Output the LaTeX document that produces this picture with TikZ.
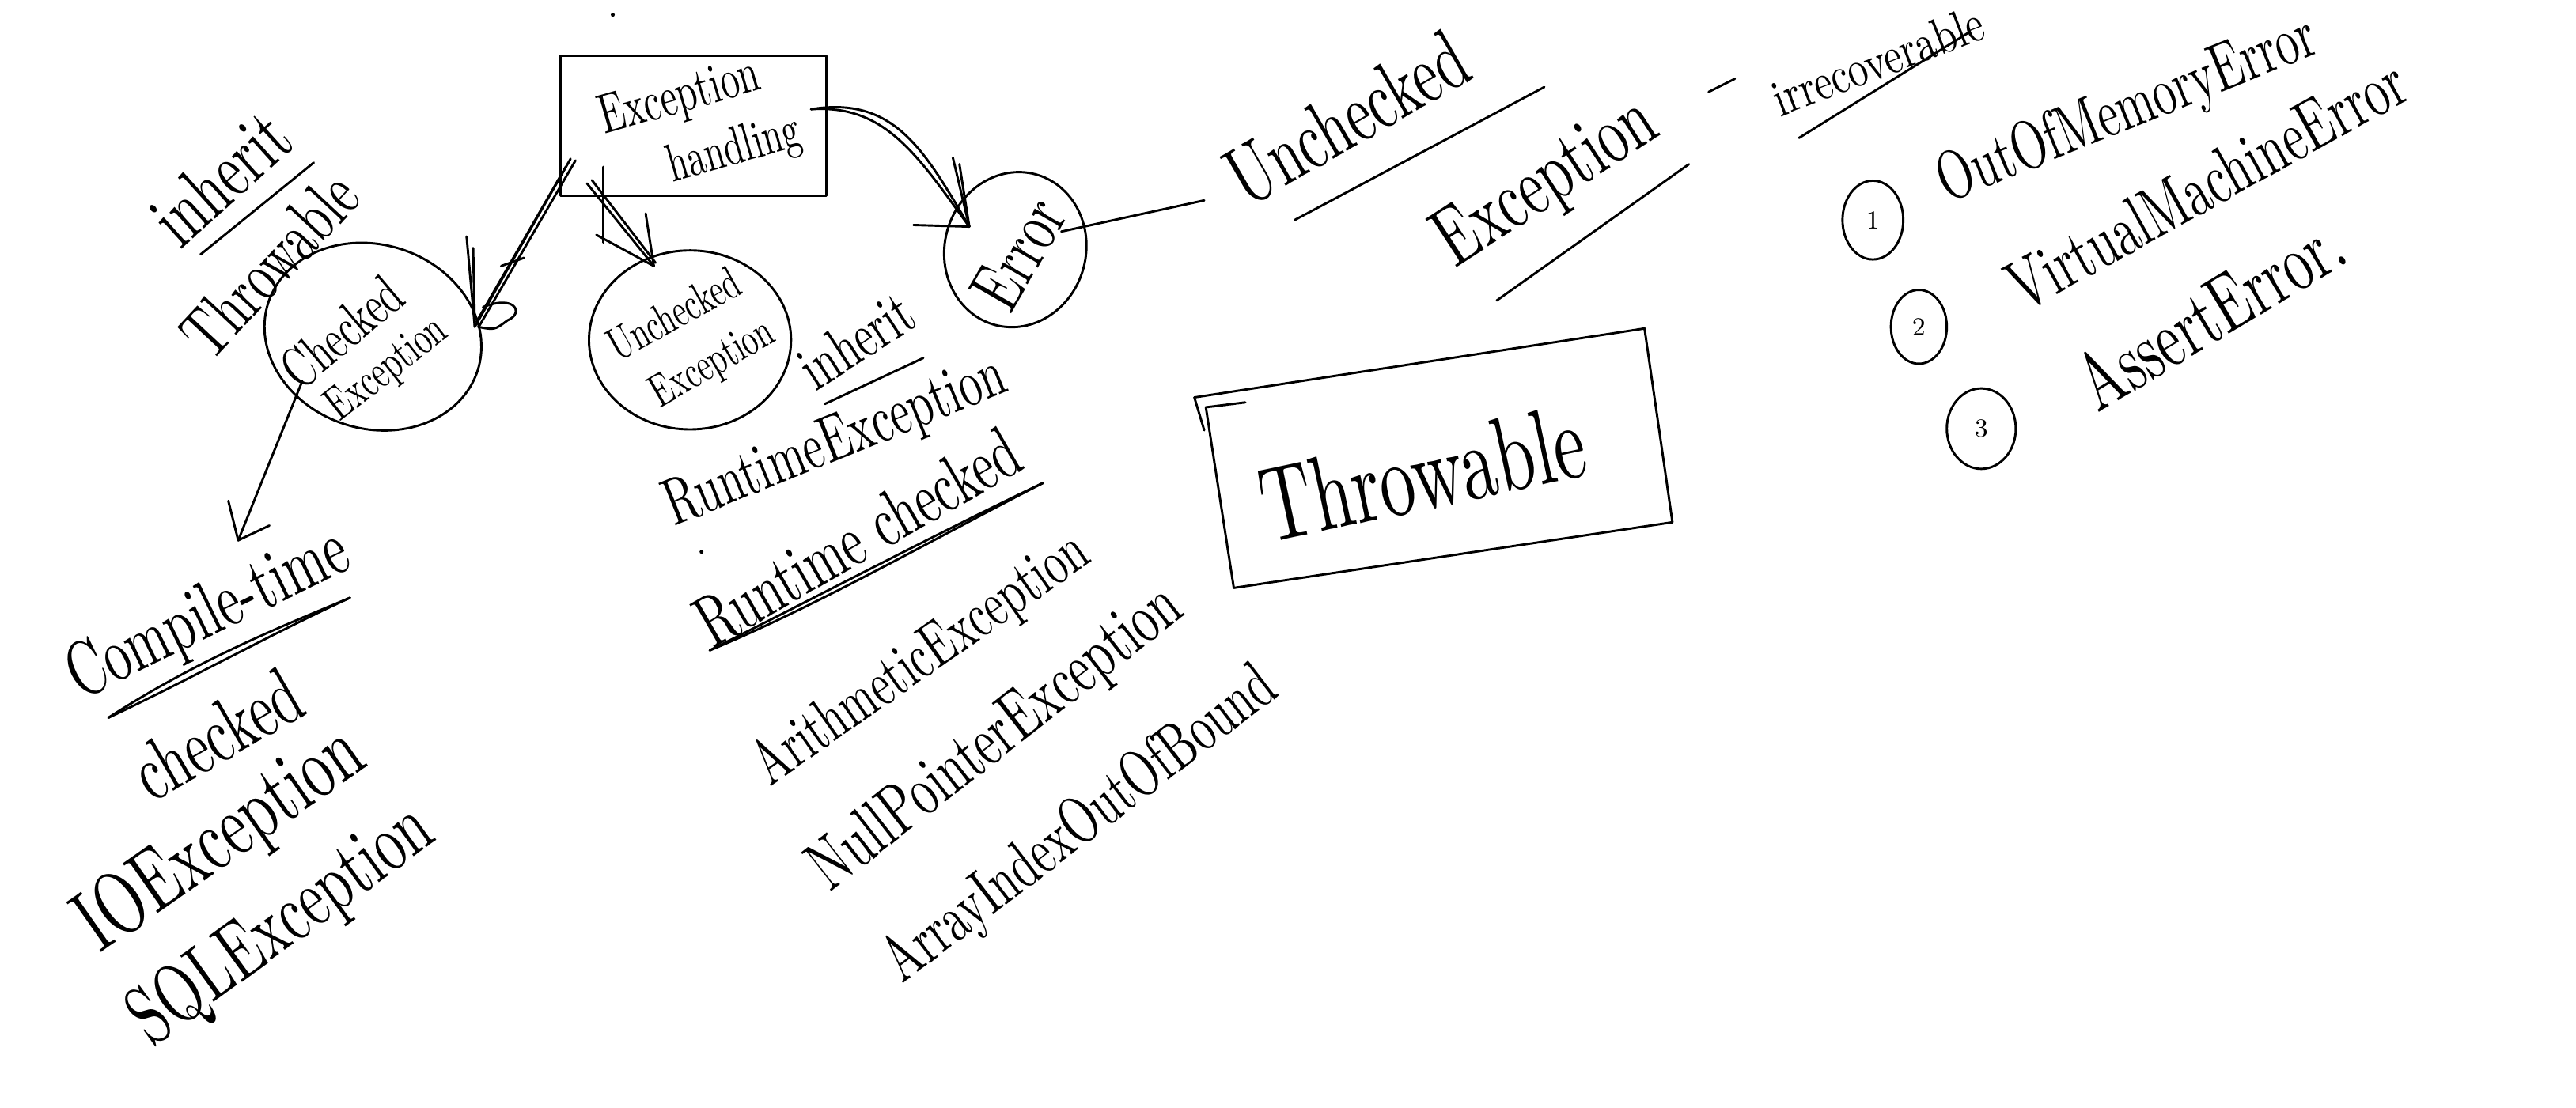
\documentclass[tikz,border=0pt]{standalone}
\usetikzlibrary{shapes.geometric,calc}
\newcommand\hw[2]{\scalebox{1}[1.5]{\resizebox{#1}{!}{#2}}}
\begin{document}
\begin{tikzpicture}[x=0.02cm,y=-0.02cm,line width=0.8pt,line cap=round,line join=round,
  txt/.style={inner sep=0pt,outer sep=0pt},
  bub/.style={draw,ellipse,inner sep=0pt},
  num/.style={draw,ellipse,inner sep=0pt,font=\small}]
\useasboundingbox (0,0) rectangle (1568,674.2);
\fill (373,9) circle (1.2);

% Exception handling box
\node[draw,minimum width=3.24cm,minimum height=1.7cm,inner sep=0pt] (hbox) at (422,76.5) {};
\node[txt,rotate=16] (hboxa) at (414,60) {\hw{2.0cm}{Exception}};
\node[txt,rotate=16] (hboxb) at (447,92) {\hw{1.65cm}{handling}};

% bubbles
\node[bub,minimum width=2.68cm,minimum height=2.24cm,rotate=-18] (chk) at (227,205) {};
\node[txt,rotate=40] (chka) at (208,202) {\hw{1.7cm}{Checked}};
\node[txt,rotate=38] (chkb) at (236,225) {\hw{1.7cm}{Exception}};

\node[bub,minimum width=2.46cm,minimum height=2.18cm] (unc) at (420,207) {};
\node[txt,rotate=29] (unca) at (410,191) {\hw{1.75cm}{Unchecked}};
\node[txt,rotate=30] (uncb) at (434,222) {\hw{1.65cm}{Exception}};

\node[bub,minimum width=1.72cm,minimum height=1.9cm,rotate=-15] (err) at (618,152) {};
\node[txt,rotate=60] (erra) at (620,154) {\hw{1.4cm}{Error}};

% arrow box -> checked
\coordinate (s1) at ($(hbox.south west)+(7,-23)$);
\coordinate (t1) at ($(chk.center)+(62,-6)$);
\draw (s1) -- (t1);
\draw ($(s1)+(-3,5)$) -- ($(t1)+(1,-3)$);
\draw ($(s1)+(3,1)$) -- ($(t1)+(3,-1)$);
\draw (t1) -- ++(-5,-55);
\draw (t1) -- ++(-1,-48);
\draw ($(t1)+(16,-37)$) -- ++(14,-5);
\draw ($(t1)+(5,-12)$) .. controls ++(20,-8) and ++(10,-4) .. ++(15,8) .. controls ++(-8,6) .. ++(-18,4);

% arrow box -> unchecked
\coordinate (s2) at ($(hbox.south west)+(17,-8)$);
\coordinate (t2) at ($(unc.center)+(-22,-45)$);
\draw (s2) -- (t2);
\draw ($(s2)+(3,-2)$) -- ($(t2)+(1,-2)$);
\draw (t2) -- ++(-5,-32);
\draw (t2) -- ++(-35,-19);
\draw ($(hbox.south west)+(27,-18)$) -- ++(0,46);

% arrow box -> error
\coordinate (s3) at ($(hbox.east)+(-10,-10)$);
\coordinate (t3) at ($(err.center)+(-28,-14)$);
\draw (s3) .. controls ($(s3)+(50,-8)$) and ($(t3)+(-28,-48)$) .. (t3);
\draw (s3) .. controls ($(s3)+(45,-3)$) and ($(t3)+(-32,-44)$) .. (t3);
\draw (t3) -- ++(-10,-42);
\draw (t3) -- ++(-6,-38);
\draw (t3) -- ++(-34,-1);

% Unchecked Exception (big) and line from Error
\node[txt,rotate=30] (bigunc) at (820,72) {\hw{3.2cm}{Unchecked}};
\node[txt,rotate=33] (bigexc) at (942,112) {\hw{3.0cm}{Exception}};
\draw ($(err.center)+(28,-11)$) -- ($(bigunc.center)+(-87,50)$);
\draw (788,134) -- (940,53);
\draw (911,183) -- (1028,100);

% irrecoverable
\draw (1040,56) -- (1056,48);
\node[txt,rotate=21] (irr) at (1143,37) {\scalebox{1}[1.3]{\resizebox{2.7cm}{!}{irrecoverable}}};
\draw (1095,84) -- (1198,20);

% list
\node[num,minimum width=0.74cm,minimum height=0.96cm] (n1) at (1140,134) {1};
\node[num,minimum width=0.68cm,minimum height=0.9cm] (n2) at (1168,199) {2};
\node[num,minimum width=0.84cm,minimum height=0.98cm] (n3) at (1206,261) {3};
\node[txt,rotate=22] (oom) at (1295,68) {\hw{4.9cm}{OutOfMemoryError}};
\node[txt,rotate=29] (vme) at (1343,112) {\hw{5.4cm}{VirtualMachineError}};
\node[txt,rotate=31] (ase) at (1345,190) {\hw{3.6cm}{AssertError.}};

% Throwable box
\draw (727,242) -- (1001,200) -- (1018,318) -- (751,358) -- (734,248) -- (758,245);
\draw (727,242) -- (733,262);
\node[txt,rotate=12] (thr) at (866,288) {\hw{4.0cm}{Throwable}};

% left side
\node[txt,rotate=42] (inh1) at (134,108) {\hw{1.9cm}{inherit}};
\draw (122,155) -- (191,99);
\node[txt,rotate=47] (thr1) at (164,161) {\hw{2.7cm}{Throwable}};

\node[txt,rotate=26] (comp) at (127,375) {\hw{3.7cm}{Compile-time}};
\coordinate (s4) at ($(chk.center)+(-43,27)$);
\coordinate (t4) at ($(comp.center)+(18,-46)$);
\draw (s4) -- (t4);
\draw (t4) -- ++(-6,-24);
\draw (t4) -- ++(19,-9);
\draw (66,437) .. controls (120,402) and (170,382) .. (213,364);
\draw (66,437) .. controls (115,414) and (165,386) .. (213,364);
\node[txt,rotate=30] (chkd) at (132,447) {\hw{2.2cm}{checked}};
\node[txt,rotate=35] (ioe) at (135,512) {\hw{4.0cm}{IOException}};
\node[txt,rotate=36] (sqle) at (172,564) {\hw{4.3cm}{SQLException}};

% middle
\node[txt,rotate=33] (inh2) at (521,207) {\hw{1.5cm}{inherit}};
\draw (502,246) -- (562,218);
\node[txt,rotate=22] (rte) at (509,270) {\hw{4.4cm}{RuntimeException}};
\fill (427,336) circle (1.2);
\node[txt,rotate=30] (rtc) at (522,327) {\hw{4.4cm}{Runtime checked}};
\draw (432,396) .. controls (500,362) and (570,325) .. (635,294);
\draw (432,396) .. controls (495,370) and (565,330) .. (635,294);
\node[txt,rotate=35] (are) at (561,402) {\hw{4.8cm}{ArithmeticException}};
\node[txt,rotate=38] (npe) at (607,450) {\hw{5.5cm}{NullPointerException}};
\node[txt,rotate=37.5] (aio) at (658,503) {\hw{5.8cm}{ArrayIndexOutOfBound}};
\end{tikzpicture}
\end{document}
